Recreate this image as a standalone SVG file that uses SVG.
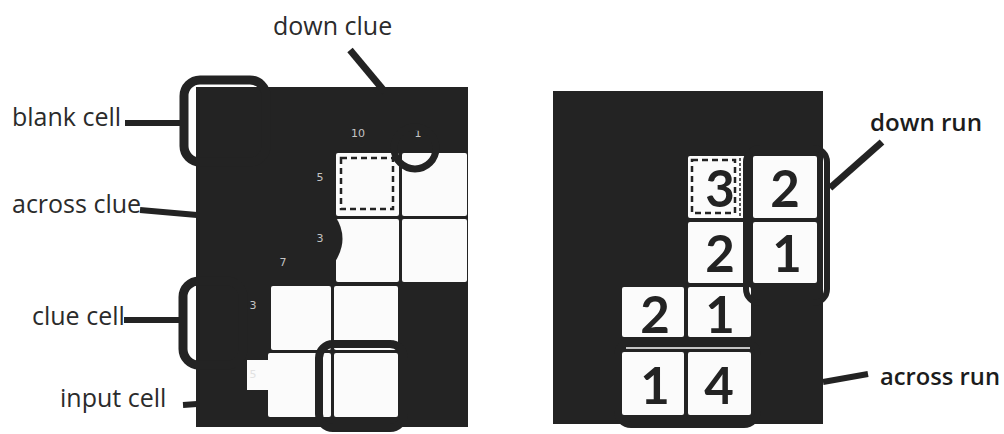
<svg xmlns="http://www.w3.org/2000/svg" width="1004" height="434" viewBox="0 0 1004 434">
<style>
.bg{fill:#232323}
.cell{fill:#fbfbfb}
.lbl{font-family:"Open Sans","DejaVu Sans",sans-serif;font-size:25px;fill:#2b2b2b}
.lbl2{font-family:"Open Sans","DejaVu Sans",sans-serif;font-size:24px;font-weight:600;fill:#1c1c1c}
.dig{font-family:Lato,"DejaVu Sans",sans-serif;font-size:51px;font-weight:700;fill:#232323;text-anchor:middle}
.clue{font-family:"DejaVu Sans",sans-serif;font-size:11px;fill:#c4c4c4;text-anchor:middle}
.dash{fill:none;stroke:#232323;stroke-width:2.5;stroke-dasharray:6 4}
.br{fill:none;stroke:#232323}
.ld{stroke:#232323;fill:none}
</style>
<rect width="1004" height="434" fill="#fff"/>

<g id="left-grid">
<rect class="bg" x="196" y="87" width="272" height="340"/>
<rect class="cell" x="336" y="153" width="63" height="63" rx="2"/>
<rect class="cell" x="402" y="153" width="65" height="63" rx="2"/>
<rect class="cell" x="336" y="219" width="63" height="63" rx="2"/>
<rect class="cell" x="402" y="219" width="65" height="63" rx="2"/>
<rect class="cell" x="271" y="286" width="60" height="64" rx="2"/>
<rect class="cell" x="334" y="286" width="64" height="64" rx="2"/>
<rect class="cell" x="268" y="353" width="63" height="64" rx="2"/>
<rect class="cell" x="334" y="353" width="64" height="64" rx="2"/>
<path class="bg" d="M335,216 Q350,238 335,262 Z"/>
<rect class="dash" x="341" y="158" width="52" height="51"/>
<rect class="cell" x="247" y="360" width="83" height="30"/>
<text class="clue" x="358" y="137">10</text>
<text class="clue" x="418" y="137">1</text>
<text class="clue" x="320" y="181">5</text>
<text class="clue" x="320" y="242">3</text>
<text class="clue" x="283" y="266">7</text>
<text class="clue" x="253" y="309">3</text>
<text class="clue" x="253" y="378" style="fill:#e2e2e2">5</text>
</g>

<g id="right-grid">
<rect class="bg" x="553" y="91" width="270" height="333"/>
<rect class="cell" x="688" y="156" width="59" height="62" rx="2"/>
<rect class="cell" x="753" y="156" width="64" height="62" rx="2"/>
<rect class="cell" x="688" y="222" width="59" height="61" rx="2"/>
<rect class="cell" x="753" y="222" width="64" height="61" rx="2"/>
<rect class="cell" x="622" y="287" width="62" height="50" rx="2"/>
<rect class="cell" x="688" y="287" width="63" height="50" rx="2"/>
<rect class="cell" x="622" y="352" width="62" height="63" rx="2"/>
<rect class="cell" x="688" y="352" width="63" height="63" rx="2"/>
<rect class="dash" x="692" y="160" width="43" height="53"/>
<line x1="740" y1="158" x2="740" y2="216" stroke="#232323" stroke-width="1.5" stroke-dasharray="3 2"/>
<text class="dig" x="720" y="207">3</text>
<text class="dig" x="785" y="207">2</text>
<text class="dig" x="720" y="272">2</text>
<text class="dig" x="787" y="272">1</text>
<text class="dig" x="655" y="333">2</text>
<text class="dig" x="720" y="333">1</text>
<text class="dig" x="655" y="404">1</text>
<text class="dig" x="719" y="404">4</text>
</g>

<g id="labels">
<text class="lbl" x="273" y="35">down clue</text>
<text class="lbl" x="12" y="126">blank cell</text>
<text class="lbl" x="12" y="213">across clue</text>
<text class="lbl" x="32" y="325">clue cell</text>
<text class="lbl" x="60" y="407">input cell</text>
<text class="lbl2" x="870" y="131" textLength="112" lengthAdjust="spacingAndGlyphs">down run</text>
<text class="lbl2" x="880" y="385" textLength="120" lengthAdjust="spacingAndGlyphs">across run</text>
</g>

<g id="connectors">
<rect class="br" x="184" y="80" width="82" height="82" rx="16" stroke-width="9"/>
<rect class="br" x="183" y="281" width="60" height="84" rx="16" stroke-width="9"/>
<rect class="br" x="319" y="344" width="85" height="84" rx="14" stroke-width="8"/>
<circle class="br" cx="415" cy="148" r="21" stroke-width="7"/>
<rect class="br" x="746" y="148" width="81" height="155" rx="14" stroke-width="6"/>
<rect class="br" x="617" y="341" width="141" height="84" rx="14" stroke-width="6"/>
<line x1="626" y1="348" x2="750" y2="348" stroke="#fbfbfb" stroke-width="1.5"/>
<line class="ld" x1="350" y1="50" x2="385" y2="92" stroke-width="7"/>
<line class="ld" x1="125" y1="123" x2="182" y2="123" stroke-width="6"/>
<line class="ld" x1="140" y1="210" x2="197" y2="215" stroke-width="6"/>
<line class="ld" x1="124" y1="320" x2="180" y2="320" stroke-width="6"/>
<line class="ld" x1="183" y1="405" x2="197" y2="404" stroke-width="6"/>
<line class="ld" x1="882" y1="142" x2="830" y2="188" stroke-width="7"/>
<line class="ld" x1="823" y1="382" x2="868" y2="374" stroke-width="6"/>
</g>
</svg>
